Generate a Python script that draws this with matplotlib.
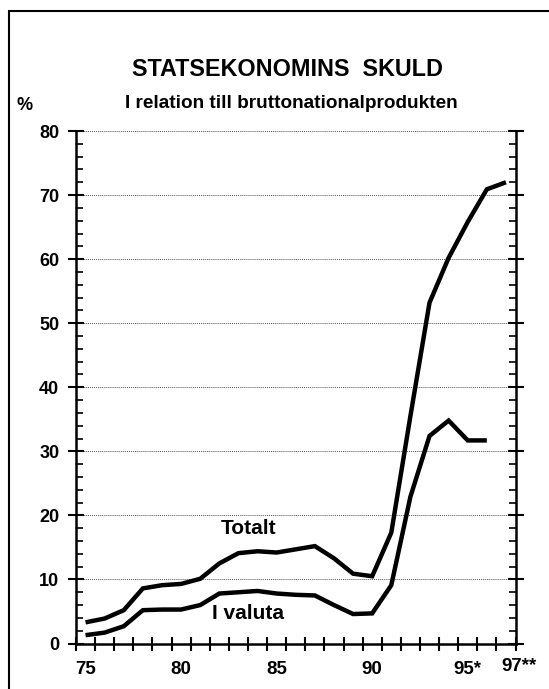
import matplotlib
matplotlib.use("Agg")
import matplotlib.pyplot as plt
from matplotlib.patches import Rectangle
from matplotlib.ticker import MultipleLocator

plt.rcParams['font.family'] = ['Liberation Sans', 'DejaVu Sans']

years = list(range(1975, 1998))
totalt = [3.3, 3.9, 5.2, 8.6, 9.1, 9.3, 10.1, 12.5, 14.1, 14.4, 14.2, 14.7, 15.2,
          13.3, 10.9, 10.5, 17.3, 35.5, 53.2, 60.2, 65.8, 70.9, 72.0]
valuta = [1.3, 1.7, 2.7, 5.2, 5.3, 5.3, 6.0, 7.8, 8.0, 8.2, 7.8, 7.6, 7.5,
          6.0, 4.6, 4.7, 9.1, 22.9, 32.4, 34.8, 31.7, 31.7]
xlabels = {1975: '75', 1980: '80', 1985: '85', 1990: '90', 1995: '95*', 1997: '97**'}
yticks = [0, 10, 20, 30, 40, 50, 60, 70, 80]

title = 'STATSEKONOMINS  SKULD'
subtitle = 'I relation till bruttonationalprodukten'

W, H = 549, 689
fig = plt.figure(figsize=(W / 100, H / 100), dpi=100)
ax = fig.add_axes([76 / W, 1 - 643.5 / H, (515.5 - 76) / W, (643.5 - 131) / H])

x = [y - 1975 for y in years]
ax.plot(x, totalt, color='black', lw=3.2, solid_joinstyle='miter', solid_capstyle='butt')
ax.plot(x[:len(valuta)], valuta, color='black', lw=3.2, solid_joinstyle='miter', solid_capstyle='butt')

ax.set_xlim(-0.5, 22.5)
ax.set_ylim(0, 80)

# gridlines
for v in yticks[1:]:
    ax.axhline(v, color='#555555', lw=0.7, ls=(0, (1, 1)), zorder=0)

ax.spines['top'].set_visible(False)
for s in ['left', 'right', 'bottom']:
    ax.spines[s].set_linewidth(1.8)

ax.set_yticks(yticks)
ax.set_yticklabels([str(v) for v in yticks], fontsize=13, fontweight='bold')
ax.yaxis.set_minor_locator(MultipleLocator(2))
ax.tick_params(axis='y', which='major', direction='inout', length=12, width=1.5, pad=6, right=True, labelright=False)
ax.tick_params(axis='y', which='minor', direction='in', length=5, width=1.2, right=True)

ax.set_xticks([i - 0.5 for i in range(24)])
ax.set_xticklabels([])
ax.tick_params(axis='x', which='major', direction='inout', length=10, width=1.5)
for yr, lab in xlabels.items():
    xi = yr - 1975
    ha = 'center'
    dy = 0
    if lab.endswith('**'):
        xi -= 0.25
        ha = 'left'
        dy = 3
    ax.annotate(lab, xy=(xi, 0), xycoords=('data', 'axes fraction'),
                xytext=(0, -26 + dy), textcoords='offset pixels',
                ha=ha, va='center', fontsize=13.5, fontweight='bold')

# labels in plot
ax.text(8.55, 18.0, 'Totalt', fontsize=15, fontweight='bold', ha='center', va='center')
ax.text(8.5, 4.7, 'I valuta', fontsize=15, fontweight='bold', ha='center', va='center')

fig.text(287 / W, 1 - 70 / H, title, fontsize=16.8, fontweight='bold', ha='center', va='center')
fig.text(291 / W, 1 - 103 / H, subtitle, fontsize=13.7, fontweight='bold', ha='center', va='center')
fig.text(25 / W, 1 - 105 / H, '%', fontsize=13, fontweight='bold', ha='center', va='center')

# outer frame
fig.patches.append(Rectangle((8.5 / W, -0.1), 1.2, (1 - 11 / H) + 0.1, transform=fig.transFigure,
                             fill=False, edgecolor='black', lw=1.5))

fig.savefig('out.png', dpi=100)
